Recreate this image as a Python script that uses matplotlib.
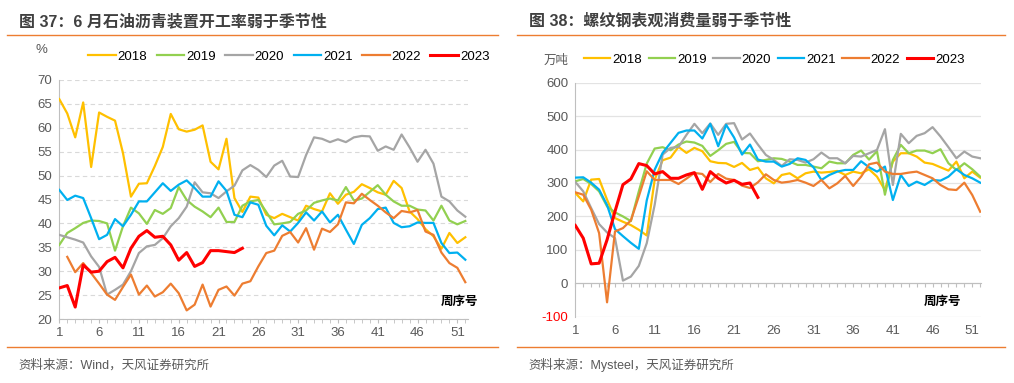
import numpy as np
import matplotlib
matplotlib.use('Agg')
import matplotlib.pyplot as plt
from matplotlib.lines import Line2D

plt.rcParams['font.family'] = ['Liberation Sans', 'Noto Sans CJK SC']
plt.rcParams['axes.unicode_minus'] = False

# ============================================================================
# 1. DADOS
# ============================================================================
weeks = np.arange(1, 53)
years = ['2018', '2019', '2020', '2021', '2022', '2023']
colors = ['#FFC000', '#92D050', '#A5A5A5', '#00B0F0', '#ED7D31', '#FF0000']

# --- Figura 37: taxa de operação de asfalto (%) ---
asp_2018 = [66.0, 63.0, 58.0, 65.3, 51.8, 63.2, 62.3, 61.5, 54.7, 45.6,
            48.3, 48.4, 52.0, 56.0, 62.9, 59.7, 59.2, 59.6, 60.5, 52.9,
            51.3, 57.7, 45.3, 42.4, 45.6, 45.4, 41.8, 41.1, 42.0, 41.3,
            40.6, 43.7, 43.0, 42.5, 46.3, 44.1, 46.0, 46.6, 48.2, 47.4,
            46.5, 46.0, 48.9, 47.4, 42.5, 40.9, 38.8, 37.3, 34.7, 38.0,
            35.9, 37.1]
asp_2019 = [35.5, 38.0, 39.0, 40.1, 40.6, 40.5, 40.0, 34.3, 39.4, 43.3,
            42.1, 39.9, 42.8, 42.0, 43.2, 47.6, 44.9, 43.5, 42.5, 41.3,
            43.3, 40.3, 40.3, 43.7, 44.6, 44.9, 42.4, 39.8, 40.0, 40.3,
            42.0, 42.7, 44.3, 44.8, 45.2, 44.8, 47.6, 44.8, 45.2, 46.6,
            48.0, 46.0, 44.6, 43.7, 43.7, 42.9, 42.7, 40.6, 43.7, 40.6,
            39.8, 40.5]
asp_2020 = [37.6, 37.1, 36.6, 36.0, 33.1, 30.9, 25.1, 26.1, 27.2, 30.0,
            33.8, 35.2, 35.5, 36.9, 39.4, 41.1, 43.5, 48.6, 46.5, 46.3,
            45.3, 46.7, 47.9, 51.1, 52.2, 51.2, 49.7, 52.1, 53.1, 49.8,
            49.7, 54.3, 58.0, 57.7, 57.0, 57.6, 57.0, 58.0, 58.3, 58.2,
            55.2, 56.1, 55.4, 58.6, 55.9, 52.9, 55.4, 52.5, 45.6, 44.6,
            42.7, 41.4]
asp_2021 = [47.0, 44.9, 45.8, 45.3, 41.1, 36.7, 37.6, 40.9, 39.4, 41.8,
            44.6, 44.6, 46.5, 48.4, 46.8, 48.1, 49.0, 47.4, 45.6, 45.6,
            48.8, 46.8, 41.8, 41.3, 44.4, 43.9, 39.5, 37.5, 39.6, 38.3,
            40.1, 42.3, 40.6, 42.5, 40.2, 41.8, 38.7, 35.7, 39.7, 41.1,
            43.0, 43.3, 40.1, 39.2, 39.4, 40.2, 40.1, 40.1, 35.9, 33.8,
            33.9, 32.4]
asp_2022 = [np.nan, 33.0, 29.8, 31.7, 29.6, 27.4, 25.1, 24.0, 26.7, 29.3,
            25.1, 27.0, 24.7, 25.6, 27.4, 25.4, 21.8, 23.0, 27.2, 22.6,
            26.1, 26.8, 24.9, 27.4, 27.9, 31.0, 33.8, 34.3, 37.4, 38.2,
            36.0, 39.0, 34.5, 38.9, 38.2, 39.8, 44.4, 44.2, 46.2, 44.9,
            43.7, 42.3, 41.1, 42.6, 42.3, 42.8, 38.3, 37.6, 33.9, 31.7,
            30.7, 27.7]
asp_2023 = [26.5, 27.0, 22.5, 31.3, 29.8, 30.0, 32.0, 32.9, 30.7, 34.8,
            37.3, 38.5, 37.1, 37.3, 35.5, 32.3, 33.9, 31.0, 31.8, 34.3,
            34.3, 34.1, 33.9, 34.8]

# --- Figura 38: consumo aparente de vergalhão (万吨) ---
reb_2018 = [270, 245, 310, 312, 250, 195, 184, 174, 160, 143,
            310, 368, 376, 408, 390, 405, 395, 365, 360, 359,
            348, 360, 339, 346, 314, 299, 324, 329, 314, 329,
            334, 331, 333, 336, 324, 334, 329, 341, 319, 279,
            364, 389, 389, 379, 361, 357, 347, 337, 364, 314,
            334, 316]
reb_2019 = [305, 312, 297, 275, 230, 212, 200, 186, 275, 358,
            403, 407, 398, 415, 424, 421, 411, 381, 398, 417,
            423, 390, 389, 365, 369, 374, 372, 364, 354, 354,
            349, 344, 364, 359, 359, 384, 397, 370, 395, 265,
            369, 414, 389, 397, 397, 389, 401, 359, 339, 359,
            341, 319]
reb_2020 = [303, 275, 225, 177, 152, 135, 8, 20, 52, 120,
            235, 385, 405, 408, 444, 477, 449, 478, 444, 477,
            479, 430, 448, 415, 384, 369, 351, 371, 369, 361,
            371, 391, 374, 374, 359, 381, 379, 389, 399, 461,
            294, 447, 419, 441, 449, 467, 439, 407, 374, 394,
            379, 374]
reb_2021 = [316, 317, 301, 280, 234, 162, 141, 121, 103, 248,
            340, 390, 420, 450, 457, 457, 433, 477, 410, 474,
            436, 385, 415, 370, 364, 364, 349, 357, 374, 369,
            347, 309, 324, 334, 339, 339, 365, 347, 334, 349,
            249, 324, 291, 304, 294, 309, 307, 319, 341, 324,
            314, 301]
reb_2022 = [272, 265, 220, 150, -57, 155, 165, 188, 260, 335,
            309, 309, 309, 297, 313, 330, 327, 303, 327, 313,
            309, 292, 285, 302, 326, 309, 301, 304, 309, 301,
            291, 309, 284, 299, 321, 291, 319, 356, 361, 334,
            327, 327, 331, 334, 324, 314, 294, 281, 279, 301,
            264, 214]
reb_2023 = [173, 135, 58, 60, 130, 215, 295, 312, 358, 352,
            327, 334, 314, 314, 324, 331, 281, 334, 314, 300,
            308, 296, 300, 257]

asp_series = [asp_2018, asp_2019, asp_2020, asp_2021, asp_2022, asp_2023]
reb_series = [reb_2018, reb_2019, reb_2020, reb_2021, reb_2022, reb_2023]

xtick_labels = list(range(1, 53, 5))

# ============================================================================
# 2. FIGURA
# ============================================================================
W, H = 1014, 383
fig = plt.figure(figsize=(W / 100, H / 100), dpi=100)

def fx(px):
    return px / W

def fy(py):
    return 1 - py / H

title_color = '#404040'
tick_color = '#595959'
line_orange = '#ED7D31'

# títulos, linhas laranja e fonte
for x0, x1, title, src in [
        (7, 498, '图 37：6 月石油沥青装置开工率弱于季节性', '资料来源：Wind，天风证券研究所'),
        (517, 1005, '图 38：螺纹钢表观消费量弱于季节性', '资料来源：Mysteel，天风证券研究所')]:
    fig.text(fx(x0 + 12), fy(21), title, fontsize=11.5, fontweight='bold',
             color=title_color, va='center', ha='left')
    fig.add_artist(Line2D([fx(x0), fx(x1)], [fy(35), fy(35)], color=line_orange, lw=1.0))
    fig.add_artist(Line2D([fx(x0), fx(x1)], [fy(347), fy(347)], color=line_orange, lw=1.0))
    fig.text(fx(x0 + 11), fy(365), src, fontsize=9, color=tick_color, va='center', ha='left')

# --- Painel 1 ---
ax1 = fig.add_axes([fx(59.3), fy(319), fx(467.7 - 59.3), (319 - 80) / H])
for vals, c, y in zip(asp_series, colors, years):
    lw = 2.2 if y == '2023' else 1.6
    ax1.plot(weeks[:len(vals)], vals, color=c, lw=lw, label=y, zorder=3)
ax1.set_xlim(1, 52.3)
ax1.set_ylim(20, 70)
ax1.set_yticks(range(20, 71, 5))
ax1.set_xticks(xtick_labels)
ax1.set_xticks(weeks, minor=True)
ax1.grid(axis='y', color='#D9D9D9', linestyle=(0, (4, 3)), lw=0.8)
ax1.set_axisbelow(True)
for s in ['top', 'right']:
    ax1.spines[s].set_visible(False)
for s in ['left', 'bottom']:
    ax1.spines[s].set_color('#BFBFBF')
ax1.tick_params(axis='y', length=0, labelsize=9.5, labelcolor=tick_color, pad=5)
ax1.tick_params(axis='x', which='both', length=3, color='#BFBFBF', labelsize=9.5,
                labelcolor=tick_color, pad=3)
ax1.text(51.3, 23.6, '周序号', fontsize=9, fontweight='bold', ha='center', va='center')
fig.text(fx(41), fy(50), '%', fontsize=9.5, color=tick_color, ha='center', va='center')
fig.legend(*ax1.get_legend_handles_labels(), loc='center left',
           bbox_to_anchor=(fx(88), fy(57)), ncol=6, frameon=False, fontsize=9.5,
           handlelength=2.1, handletextpad=0.15, columnspacing=0.7,
           borderpad=0, borderaxespad=0)

# --- Painel 2 ---
ax2 = fig.add_axes([fx(575.3), fy(316.7), fx(981 - 575.3), (316.7 - 82.7) / H])
for vals, c, y in zip(reb_series, colors, years):
    lw = 2.2 if y == '2023' else 1.6
    ax2.plot(weeks[:len(vals)], vals, color=c, lw=lw, label=y, zorder=3)
ax2.set_xlim(1, 52.1)
ax2.set_ylim(-100, 600)
ax2.set_yticks(range(-100, 601, 100))
ax2.grid(axis='y', color='#E3E3E3', linestyle='-', lw=0.9)
ax2.set_axisbelow(True)
for s in ['top', 'right']:
    ax2.spines[s].set_visible(False)
ax2.spines['left'].set_color('#BFBFBF')
ax2.spines['bottom'].set_position(('data', 0))
ax2.spines['bottom'].set_color('#BFBFBF')
ax2.set_xticks(weeks)
ax2.tick_params(axis='x', length=3, color='#BFBFBF', labelbottom=False)
ax2.tick_params(axis='y', length=0, labelsize=9.5, labelcolor=tick_color, pad=5)
for lab in ax2.get_yticklabels():
    if lab.get_text().startswith('−') or lab.get_text().startswith('-'):
        lab.set_color('#FF0000')
sec = ax2.secondary_xaxis('bottom')
sec.set_xticks(xtick_labels)
sec.tick_params(length=0, labelsize=9.5, labelcolor=tick_color, pad=6)
sec.spines['bottom'].set_visible(False)
ax2.text(47.3, -56, '周序号', fontsize=9, fontweight='bold', ha='center', va='center')
fig.text(fx(556), fy(61), '万吨', fontsize=9, color=tick_color, ha='center', va='center')
fig.legend(*ax2.get_legend_handles_labels(), loc='center left',
           bbox_to_anchor=(fx(584), fy(60)), ncol=6, frameon=False, fontsize=9.5,
           handlelength=2.0, handletextpad=0.15, columnspacing=0.5,
           borderpad=0, borderaxespad=0)

plt.savefig('out.png', dpi=100)
